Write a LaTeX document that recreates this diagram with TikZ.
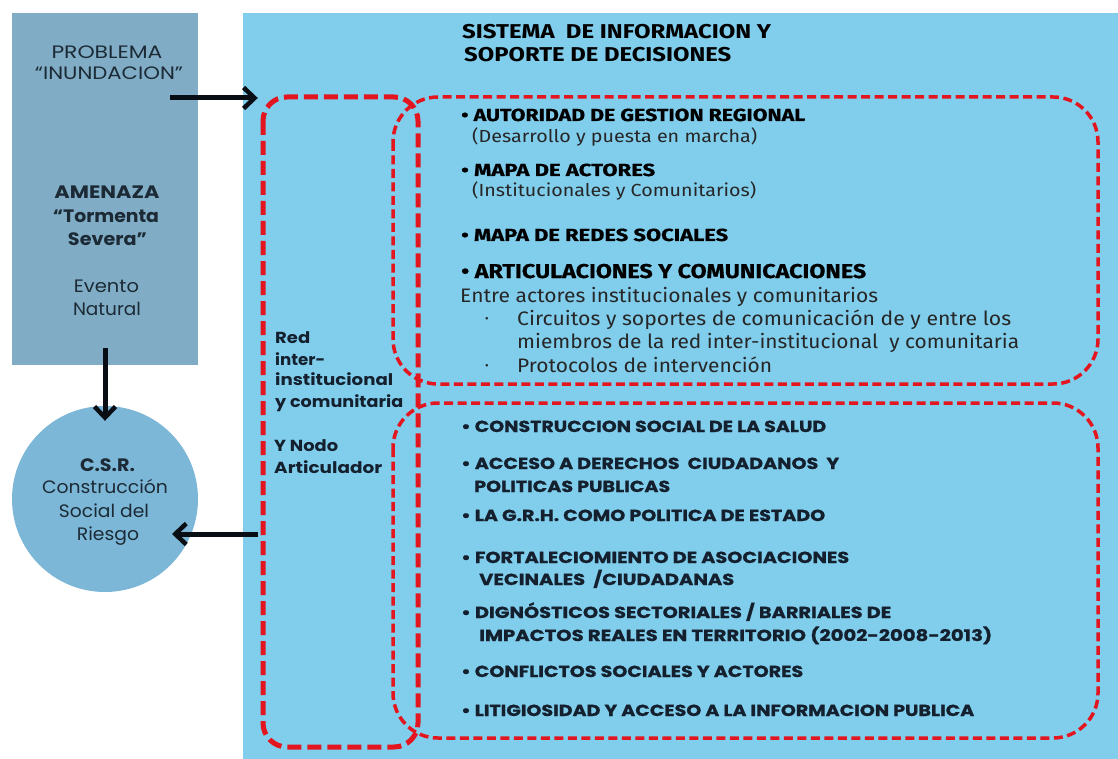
\documentclass[tikz,border=0pt]{standalone}
\usepackage{fontspec}
\usepackage{graphicx}
\setmainfont{Poppins}
\newfontfamily\fira{Fira Sans}
\usetikzlibrary{arrows.meta}
\definecolor{lboxc}{HTML}{80ADC5}
\definecolor{circc}{HTML}{7CB7D7}
\definecolor{panelc}{HTML}{80CDEC}
\definecolor{redc}{HTML}{E3161F}
\definecolor{txtc}{HTML}{1C2A36}
\definecolor{arrc}{HTML}{080E14}
\definecolor{navy}{HTML}{14202E}
\newcommand{\tw}[2]{\resizebox{#1pt}{\height}{#2}}
\tikzset{
  lt/.style={anchor=base, inner sep=0pt, text=txtc, font=\fontsize{18}{21}\selectfont},
  ltb/.style={lt, font=\fontsize{18}{21}\selectfont\bfseries},
  rt/.style={anchor=base west, inner sep=0pt, text=navy, font=\fontsize{16}{19}\selectfont\bfseries},
  hd/.style={anchor=base west, inner sep=0pt, text=black, font=\fira\fontsize{20}{22}\selectfont\bfseries},
  ub/.style={anchor=base west, inner sep=0pt, text=black, font=\fira\fontsize{17.5}{20}\selectfont\bfseries\addfontfeatures{FakeBold=0.6}},
  ubig/.style={anchor=base west, inner sep=0pt, text=black, font=\fira\fontsize{20}{22}\selectfont\bfseries\addfontfeatures{FakeBold=0.6}},
  un/.style={anchor=base west, inner sep=0pt, text=black!85, font=\fira\fontsize{17.5}{20}\selectfont},
  unb/.style={anchor=base west, inner sep=0pt, text=black!85, font=\fira\fontsize{19.5}{22}\selectfont},
  lb/.style={anchor=base west, inner sep=0pt, text=navy, font=\fontsize{16}{20}\selectfont\bfseries\addfontfeatures{FakeBold=0.8}},
  dot/.style={anchor=base, inner sep=0pt, text=black!85, font=\fira\fontsize{11}{12}\selectfont},
  arr/.style={draw=arrc, line width=5pt, -{Straight Barb[length=11pt,width=21pt,line width=4.5pt]}},
  bigdash/.style={draw=redc, line width=5pt, dash pattern=on 14pt off 6pt, rounded corners=24pt},
  smdash/.style={draw=redc, line width=3.5pt, dash pattern=on 9pt off 4.5pt, rounded corners=45pt},
}
\begin{document}
\begin{tikzpicture}[x=1pt,y=-1pt]
\useasboundingbox[fill=white] (0,0) rectangle (1118,759);
% panels
\node[fill=panelc, minimum width=875pt, minimum height=746pt, inner sep=0pt] (panel) at (680.5,386) {};
\node[fill=lboxc, minimum width=186pt, minimum height=352pt, inner sep=0pt] (lbox) at (105,189) {};
\node[circle, fill=circc, minimum size=186pt, inner sep=0pt] (csr) at (105,499) {};
% dashed boxes
\draw[smdash] (393,97) rectangle (1098,384);
\node[minimum width=705pt, minimum height=287pt, inner sep=0pt] (upbox) at (745.5,240.5) {};
\draw[smdash] (393,403) rectangle (1098,738);
\node[minimum width=705pt, minimum height=335pt, inner sep=0pt] (lowbox) at (745.5,570.5) {};
\draw[bigdash] (263,97) rectangle (418,747);
\node[minimum width=155pt, minimum height=650pt, inner sep=0pt] (redbox) at (340.5,422) {};
% left panel text
\node[lt] (p1) at (107,58.5) {\tw{111}{PROBLEMA}};
\node[lt] (p2) at (109,79.5) {\tw{148}{“INUNDACION”}};
\node[ltb] (p3) at (107,198.5) {\tw{105}{AMENAZA}};
\node[ltb] (p4) at (106,222.5) {\tw{106}{“Tormenta}};
\node[ltb] (p5) at (107.5,245.5) {\tw{79}{Severa”}};
\node[lt] (p6) at (106.5,292.5) {\tw{65}{Evento}};
\node[lt] (p7) at (107,315.5) {\tw{68}{Natural}};
% circle text
\node[ltb] (c1) at (107.5,471) {\tw{55}{C.S.R.}};
\node[lt] (c2) at (105,493) {\tw{126}{Construcción}};
\node[lt] (c3) at (104,517.5) {\tw{90}{Social del}};
\node[lt] (c4) at (108,540) {\tw{62}{Riesgo}};
% red box text
\node[rt] (r1) at (275,343) {\tw{35}{Red}};
\node[rt] (r2) at (275,365) {\tw{50}{inter-}};
\node[rt] (r3) at (275,385) {\tw{118}{institucional}};
\node[rt] (r4) at (275,407) {\tw{128}{y comunitaria}};
\node[rt] (r5) at (274,451) {\tw{64}{Y Nodo}};
\node[rt] (r6) at (274,473) {\tw{108}{Articulador}};
% header
\node[hd] (h1) at (462,39) {\tw{309}{SISTEMA\ \ DE INFORMACION Y}};
\node[hd] (h2) at (464,62) {\tw{267}{SOPORTE DE DECISIONES}};
% upper box text
\node[ub] (u1) at (461,121) {\tw{344}{• AUTORIDAD DE GESTION REGIONAL}};
\node[un] (u2) at (472,143) {\tw{285}{(Desarrollo y puesta en marcha)}};
\node[ub] (u3) at (461,176) {\tw{194}{• MAPA DE ACTORES}};
\node[un] (u4) at (472,197) {\tw{284}{(Institucionales y Comunitarios)}};
\node[ub] (u5) at (461,241) {\tw{267}{• MAPA DE REDES SOCIALES}};
\node[ubig] (u6) at (461,278) {\tw{405}{• ARTICULACIONES Y COMUNICACIONES}};
\node[unb] (u7) at (460,302) {\tw{418}{Entre actores institucionales y comunitarios}};
\node[dot] (d1) at (487,322) {•};
\node[unb] (u8) at (517,325) {\tw{494}{Circuitos y soportes de comunicación de y entre los}};
\node[unb] (u9) at (517,348) {\tw{502}{miembros de la red inter-institucional\ \ y comunitaria}};
\node[dot] (d2) at (487,369) {•};
\node[unb] (u10) at (517,372) {\tw{255}{Protocolos de intervención}};
% lower box text
\node[lb] (l1) at (461,432) {\tw{365}{• CONSTRUCCION SOCIAL DE LA SALUD}};
\node[lb] (l2) at (461,469) {\tw{378}{• ACCESO A DERECHOS\ \ CIUDADANOS\ \ Y}};
\node[lb] (l3) at (474,492) {\tw{196}{POLITICAS PUBLICAS}};
\node[lb] (l4) at (461,521) {\tw{364}{• LA G.R.H. COMO POLITICA DE ESTADO}};
\node[lb] (l5) at (461,563) {\tw{388}{• FORTALECIOMIENTO DE ASOCIACIONES}};
\node[lb] (l6) at (479,585) {\tw{255}{VECINALES\ \ /CIUDADANAS}};
\node[lb] (l7) at (461,618) {\tw{430}{• DIGNÓSTICOS SECTORIALES / BARRIALES DE}};
\node[lb] (l8) at (479,641) {\tw{513}{IMPACTOS REALES EN TERRITORIO (2002-2008-2013)}};
\node[lb] (l9) at (461,677) {\tw{342}{• CONFLICTOS SOCIALES Y ACTORES}};
\node[lb] (l10) at (461,716) {\tw{513}{• LITIGIOSIDAD Y ACCESO A LA INFORMACION PUBLICA}};
% arrows
\coordinate (a1) at (170,98);
\draw[arr, shorten >=5pt] (a1) -- (a1 -| redbox.west);
\draw[arr] ([yshift=17pt]lbox.south) -- ([yshift=-15pt]csr.north);
\coordinate (a3) at (258,534);
\draw[arr, shorten >=67pt] (a3) -- (a3 -| csr.center);
\end{tikzpicture}
\end{document}
